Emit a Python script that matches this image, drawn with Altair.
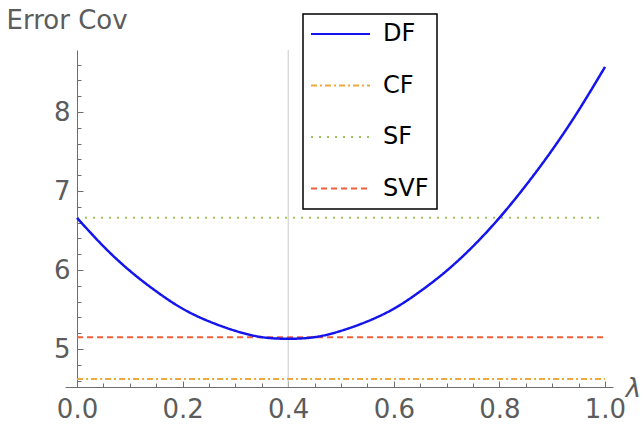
import altair as alt
import pandas as pd

# ---- data ----
lam = [0.0, 0.05, 0.1, 0.15, 0.2, 0.25, 0.3, 0.35, 0.4, 0.45, 0.5,
       0.55, 0.6, 0.65, 0.7, 0.75, 0.8, 0.85, 0.9, 0.95, 1.0]
df_vals = [6.66, 6.30, 5.99, 5.73, 5.51, 5.35, 5.23, 5.15, 5.13, 5.15, 5.23,
           5.35, 5.51, 5.73, 5.99, 6.30, 6.66, 7.07, 7.52, 8.02, 8.57]

ref_names = ["CF", "SF", "SVF"]
ref_levels = [4.62, 6.66, 5.15]
ref_x = [0.0, 1.0]

marker_x = [0.4]
x_domain = [-0.0228, 1.0152]
y_domain = [4.519, 8.785]

series_order = ["DF", "CF", "SF", "SVF"]
series_colors = ["#1414EE", "#EBA940", "#9CC35A", "#EF5F3B"]
series_dashes = [[1, 0], [6, 3, 2, 3], [2, 6], [6, 4]]

x_major = [0.0, 0.2, 0.4, 0.6, 0.8, 1.0]
x_minor = [0.05, 0.1, 0.15, 0.25, 0.3, 0.35, 0.45, 0.5, 0.55,
           0.65, 0.7, 0.75, 0.85, 0.9, 0.95]
y_major = [5, 6, 7, 8]
y_minor = [4.6, 4.8, 5.2, 5.4, 5.6, 5.8, 6.2, 6.4, 6.6, 6.8,
           7.2, 7.4, 7.6, 7.8, 8.2, 8.4, 8.6, 8.8]

# ---- tables ----
df_curve = pd.DataFrame({"lam": lam, "val": df_vals, "series": "DF"})
rows = []
for n, v in zip(ref_names, ref_levels):
    for xx in ref_x:
        rows.append({"lam": xx, "val": v, "series": n})
df_ref = pd.DataFrame(rows)
df_mark = pd.DataFrame({"lam": marker_x, "y0": [y_domain[0]], "y1": [y_domain[1]]})

W, H = 548, 337
AX_GRAY = "#6e6e6e"
TXT_GRAY = "#5c5c5c"
FONT = "DejaVu Sans"

xs = alt.Scale(domain=x_domain, nice=False, zero=False)
ys = alt.Scale(domain=y_domain, nice=False, zero=False)

leg = alt.Legend(
    title=None, orient="none", legendX=238, legendY=-36,
    strokeColor="black", fillColor="white",
    padding=8, rowPadding=27.5,
    symbolType="M-1.2,0L4.7,0", symbolSize=400, symbolStrokeWidth=2,
    symbolFillColor="transparent",
    labelFont=FONT, labelFontSize=24, labelColor="black", labelOffset=48,
)
color_enc = alt.Color("series:N", scale=alt.Scale(domain=series_order, range=series_colors),
                      legend=leg, sort=series_order)
dash_enc = alt.StrokeDash("series:N", scale=alt.Scale(domain=series_order, range=series_dashes),
                          legend=leg, sort=series_order)

# axis with labels (layer A)
x_lab_axis = alt.Axis(orient="bottom", values=x_major, format=".1f", ticks=False,
                      domain=True, domainColor=AX_GRAY, domainWidth=1,
                      labelFont=FONT, labelFontSize=26, labelColor=TXT_GRAY, labelPadding=9,
                      title="λ", titleFont=FONT, titleFontSize=26, titleFontStyle="italic",
                      titleFontWeight="normal", titleColor=TXT_GRAY,
                      titleX=568, titleY=9, titleAlign="center", titleBaseline="alphabetic",
                      grid=False)
y_lab_axis = alt.Axis(orient="left", offset=-12, values=y_major, format="d", ticks=False,
                      domain=True, domainColor=AX_GRAY, domainWidth=1,
                      labelFont=FONT, labelFontSize=26, labelColor=TXT_GRAY, labelPadding=7,
                      title="Error Cov", titleFont=FONT, titleFontSize=26, titleFontWeight="normal",
                      titleColor=TXT_GRAY, titleAngle=0, titleAlign="left",
                      titleBaseline="alphabetic", titleX=-71, titleY=-22, grid=False)
# major tick axes (layer B)
x_maj_axis = alt.Axis(orient="top", offset=-H, values=x_major, labels=False, domain=False,
                      ticks=True, tickSize=6, tickColor=AX_GRAY, tickWidth=1, title=None, grid=False)
y_maj_axis = alt.Axis(orient="right", offset=-(W - 12), values=y_major, labels=False, domain=False,
                      ticks=True, tickSize=6, tickColor=AX_GRAY, tickWidth=1, title=None, grid=False)
# minor tick axes (layer C)
x_min_axis = alt.Axis(orient="top", offset=-H, values=x_minor, labels=False, domain=False,
                      ticks=True, tickSize=4, tickColor=AX_GRAY, tickWidth=1, title=None, grid=False)
y_min_axis = alt.Axis(orient="right", offset=-(W - 12), values=y_minor, labels=False, domain=False,
                      ticks=True, tickSize=4, tickColor=AX_GRAY, tickWidth=1, title=None, grid=False)

layer_c = alt.Chart(df_mark).mark_rule(color="#c9c9c9", strokeWidth=1).encode(
    x=alt.X("lam:Q", scale=xs, axis=x_min_axis),
    y=alt.Y("y0:Q", scale=ys, axis=y_min_axis),
    y2="y1:Q",
)

layer_a = alt.Chart(df_ref).mark_line(strokeWidth=2).encode(
    x=alt.X("lam:Q", scale=xs, axis=x_lab_axis),
    y=alt.Y("val:Q", scale=ys, axis=y_lab_axis),
    color=color_enc,
    strokeDash=dash_enc,
    detail="series:N",
)

layer_b = alt.Chart(df_curve).mark_line(strokeWidth=2.5, interpolate="natural").encode(
    x=alt.X("lam:Q", scale=xs, axis=x_maj_axis),
    y=alt.Y("val:Q", scale=ys, axis=y_maj_axis),
    color=color_enc,
    strokeDash=dash_enc,
)

chart = alt.layer(layer_c, layer_a, layer_b).resolve_axis(
    x="independent", y="independent"
).properties(
    width=W, height=H,
    padding={"left": 65, "top": 50, "right": 29, "bottom": 44},
    autosize=alt.AutoSizeParams(type="none"),
    background="white",
).configure_view(stroke=None).configure_legend(strokeWidth=1.5)

chart.save("out.html", embed_options={"renderer": "svg", "actions": False})
